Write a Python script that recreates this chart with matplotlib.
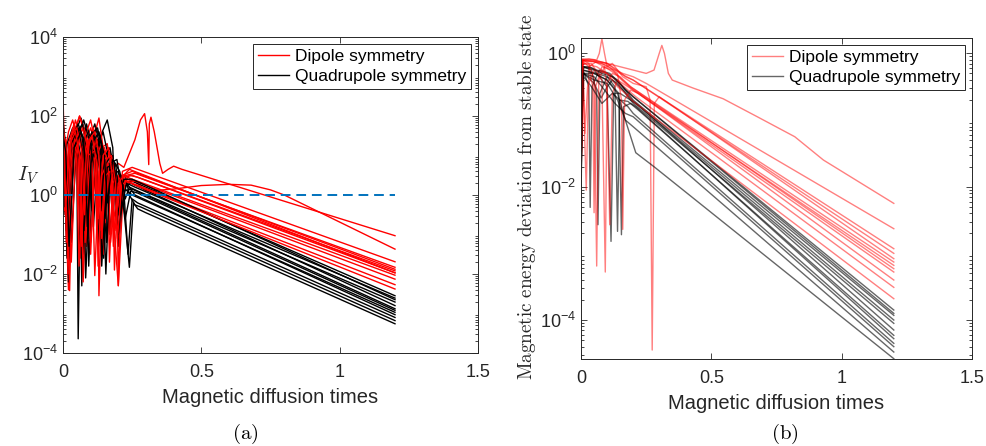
import numpy as np
import matplotlib
matplotlib.use("Agg")
from matplotlib import pyplot as plt

plt.rcParams['font.family'] = ['Liberation Sans', 'DejaVu Sans']
plt.rcParams['mathtext.fontset'] = 'cm'

# each curve: list of (time, log10 value) knots

# panel (a): I_V
a_dipole = [
    [(0, 2.6), (0.005, 1.0), (0.02, 1.6), (0.035, 1.9), (0.05, 1.5), (0.06, -1.0), (0.075, 1.2), (0.1, 1.7),
     (0.12, 1.2), (0.13, -0.8), (0.15, 0.5), (0.2, 0.8), (0.22, 0.7), (0.26, 1.4), (0.28, 1.9), (0.295, 2.06),
     (0.305, 1.6), (0.31, 0.77), (0.312, 1.8), (0.318, 1.97), (0.33, 1.6), (0.35, 0.8), (0.36, 0.55),
     (0.38, 0.65), (0.4, 0.73), (0.43, 0.65), (1.2, -1.03)],
    [(0, 1.5), (0.02, -2.4), (0.04, 1.5), (0.06, 2.0), (0.08, 1.6), (0.1, -1.2), (0.12, 1.0), (0.15, 1.2),
     (0.17, 0.6), (0.2, -2.3), (0.22, 0.4), (0.26, 0.35), (0.3, 0.1), (0.4, 0.15), (0.5, 0.24), (0.6, 0.27),
     (0.68, 0.25), (0.75, 0.13), (0.8, 0.0), (1.2, -1.37)],
    [(0, 1.8), (0.01, 0.5), (0.015, -1.5), (0.025, 1.2), (0.045, 1.9), (0.065, 1.4), (0.075, -0.8), (0.09, 1.3),
     (0.11, 1.7), (0.125, 1.0), (0.13, -2.55), (0.145, 0.9), (0.17, 1.1), (0.185, 0.2), (0.2, -0.4),
     (0.215, 0.6), (0.25, 0.7), (1.2, -1.69)],
    [(0, 2.2), (0.008, -0.5), (0.02, 1.3), (0.04, 1.8), (0.055, 1.3), (0.065, -1.6), (0.08, 1.5), (0.1, 1.9),
     (0.115, 1.4), (0.122, -1.0), (0.14, 1.2), (0.16, 1.3), (0.175, 0.5), (0.182, -1.3), (0.2, 0.4),
     (0.23, 0.5), (0.26, 0.55), (1.2, -1.83)],
    [(0, 1.2), (0.01, 1.4), (0.024, -2.42), (0.035, 1.0), (0.055, 1.6), (0.07, 1.2), (0.085, -1.3), (0.1, 1.2),
     (0.12, 1.5), (0.135, 0.8), (0.145, -1.5), (0.16, 0.7), (0.18, 0.9), (0.195, 0.2), (0.2, -2.29),
     (0.21, 0.2), (0.24, 0.5), (0.27, 0.45), (1.2, -1.92)],
    [(0, 1.5), (0.012, 1.1), (0.02, -1.0), (0.035, 1.5), (0.06, 2.0), (0.08, 1.5), (0.09, -0.6), (0.105, 1.3),
     (0.13, 1.95), (0.145, 1.2), (0.152, -0.7), (0.17, 0.8), (0.19, 0.6), (0.205, -0.5), (0.22, 0.45),
     (0.25, 0.5), (1.2, -1.97)],
    [(0, 1.0), (0.005, -0.4), (0.02, 1.1), (0.04, 1.5), (0.05, 0.8), (0.058, -1.8), (0.075, 0.9), (0.09, 1.4),
     (0.105, 0.8), (0.115, -2.04), (0.13, 0.6), (0.15, 1.0), (0.165, 0.3), (0.172, -1.2), (0.19, 0.3),
     (0.215, 0.5), (0.25, 0.4), (1.2, -2.03)],
    [(0, 1.6), (0.015, 0.8), (0.03, -1.7), (0.045, 1.0), (0.07, 1.7), (0.09, 1.2), (0.1, -1.5), (0.115, 0.9),
     (0.14, 1.3), (0.16, 0.9), (0.168, -1.7), (0.18, 0.3), (0.2, 0.5), (0.212, -0.2), (0.225, 0.3),
     (0.26, 0.35), (1.2, -2.13)],
    [(0, 1.3), (0.01, 0.9), (0.018, -2.0), (0.03, 0.7), (0.05, 1.3), (0.065, 0.9), (0.073, -2.2), (0.09, 1.0),
     (0.11, 1.1), (0.12, 0.3), (0.127, -1.8), (0.14, 0.5), (0.16, 0.8), (0.175, 0.0), (0.188, -0.9),
     (0.21, 0.4), (0.25, 0.3), (1.2, -2.27)],
    [(0, 1.7), (0.01, 1.2), (0.022, -0.8), (0.04, 1.3), (0.06, 1.6), (0.075, 0.8), (0.08, -1.2), (0.1, 1.0),
     (0.12, 1.4), (0.135, 0.9), (0.14, -1.1), (0.155, 0.5), (0.17, 0.6), (0.18, -0.8), (0.2, 0.2),
     (0.23, 0.35), (0.26, 0.25), (1.2, -2.38)],
    [(0, 2.0), (0.006, 1.0), (0.012, -1.2), (0.03, 1.5), (0.05, 1.7), (0.068, 1.1), (0.078, -0.5), (0.095, 1.4),
     (0.115, 1.6), (0.13, 1.0), (0.138, -0.9), (0.155, 0.9), (0.175, 1.0), (0.19, 0.3), (0.197, -1.1),
     (0.215, 0.5), (0.25, 0.6), (1.2, -1.88)],
    [(0, 1.4), (0.01, -0.3), (0.025, 1.3), (0.045, 1.6), (0.06, 1.0), (0.066, -1.3), (0.085, 1.1), (0.105, 1.5),
     (0.12, 0.9), (0.128, -0.6), (0.145, 1.0), (0.165, 1.2), (0.18, 0.4), (0.186, -1.9), (0.2, 0.3),
     (0.22, 0.5), (0.24, 0.65), (1.2, -1.97)],
]

a_quadrupole = [
    [(0, 1.6), (0.01, 1.0), (0.02, -1.0), (0.04, 1.5), (0.065, 1.95), (0.085, 1.5), (0.095, -0.5), (0.11, 1.2),
     (0.135, 1.5), (0.15, 0.9), (0.158, -1.2), (0.175, 0.5), (0.2, 0.6), (0.215, 0.0), (0.24, -1.83),
     (0.255, -0.2), (0.27, -0.35), (0.3, -0.45), (1.2, -3.26)],
    [(0, 1.9), (0.005, 0.5), (0.015, 1.3), (0.035, 1.7), (0.05, 1.0), (0.055, -3.64), (0.065, 1.0), (0.085, 1.8),
     (0.1, 1.4), (0.11, -0.8), (0.13, 1.4), (0.16, 1.9), (0.18, 1.2), (0.19, -0.5), (0.205, 0.4), (0.225, 0.5),
     (0.24, 0.0), (0.26, -0.25), (0.28, -0.3), (1.2, -3.18)],
    [(0, 1.2), (0.008, -0.5), (0.025, 1.2), (0.05, 1.6), (0.065, 0.9), (0.072, -1.5), (0.09, 1.3), (0.115, 1.8),
     (0.135, 1.2), (0.142, -0.7), (0.16, 0.9), (0.18, 1.0), (0.195, 0.0), (0.2, -1.3), (0.22, 0.3),
     (0.25, 0.35), (1.2, -2.55)],
    [(0, 1.5), (0.012, 0.7), (0.02, -2.2), (0.035, 1.0), (0.06, 1.7), (0.08, 1.3), (0.09, -1.1), (0.105, 1.0),
     (0.125, 1.4), (0.14, 0.6), (0.147, -1.6), (0.165, 0.5), (0.19, 0.6), (0.205, -0.3), (0.23, 0.3),
     (0.26, 0.2), (1.2, -2.61)],
    [(0, 1.8), (0.01, 1.3), (0.03, -1.2), (0.05, 1.4), (0.075, 1.9), (0.095, 1.4), (0.105, -0.4), (0.12, 1.1),
     (0.145, 1.6), (0.16, 1.1), (0.17, -1.0), (0.185, 0.4), (0.21, 0.5), (0.225, -0.1), (0.24, 0.2),
     (0.27, 0.1), (1.2, -2.71)],
    [(0, 1.3), (0.006, 0.2), (0.015, -1.6), (0.03, 1.1), (0.05, 1.5), (0.06, 0.9), (0.068, -2.3), (0.085, 1.1),
     (0.105, 1.6), (0.12, 1.0), (0.128, -1.3), (0.145, 0.9), (0.17, 1.2), (0.185, 0.6), (0.195, -0.7),
     (0.215, 0.2), (0.245, 0.3), (1.2, -2.8)],
    [(0, 1.7), (0.01, 0.9), (0.025, -0.7), (0.045, 1.5), (0.07, 1.8), (0.085, 1.2), (0.093, -1.8), (0.11, 0.9),
     (0.13, 1.3), (0.145, 0.7), (0.152, -0.6), (0.17, 0.8), (0.195, 0.9), (0.21, 0.2), (0.225, -0.6),
     (0.245, 0.1), (0.27, 0.05), (1.2, -2.92)],
    [(0, 1.4), (0.01, 0.4), (0.018, -1.9), (0.035, 0.9), (0.055, 1.3), (0.07, 0.6), (0.078, -1.0), (0.095, 1.2),
     (0.12, 1.7), (0.14, 1.3), (0.15, -0.3), (0.165, 0.6), (0.185, 0.7), (0.2, -0.2), (0.215, 0.2),
     (0.25, 0.0), (1.2, -2.97)],
    [(0, 2.0), (0.005, 1.2), (0.012, -0.9), (0.03, 1.4), (0.055, 1.8), (0.075, 1.4), (0.083, -0.2), (0.1, 1.5),
     (0.125, 1.7), (0.14, 1.2), (0.155, -2.0), (0.17, 0.7), (0.19, 0.8), (0.2, 0.2), (0.21, -0.4),
     (0.23, 0.3), (0.26, 0.0), (1.2, -3.03)],
    [(0, 1.1), (0.01, 0.3), (0.02, -0.6), (0.04, 1.2), (0.06, 1.5), (0.075, 0.9), (0.082, -2.1), (0.1, 0.8),
     (0.12, 1.2), (0.135, 0.5), (0.14, -1.8), (0.16, 0.7), (0.185, 0.8), (0.2, -0.5), (0.22, 0.4),
     (0.25, 0.4), (1.2, -2.65)],
    [(0, 1.6), (0.008, -0.3), (0.03, 1.3), (0.055, 1.7), (0.07, 1.1), (0.076, -0.9), (0.09, 1.0), (0.115, 1.5),
     (0.135, 0.9), (0.14, -0.4), (0.155, 0.8), (0.175, 1.0), (0.19, 0.2), (0.2, -1.0), (0.215, 0.1),
     (0.25, 0.15), (1.2, -2.88)],
    [(0, 1.5), (0.01, 1.1), (0.022, -1.3), (0.04, 1.2), (0.065, 1.6), (0.08, 1.0), (0.088, -0.8), (0.105, 1.3),
     (0.13, 1.6), (0.15, 1.0), (0.16, -0.2), (0.18, 0.9), (0.205, 0.6), (0.22, 0.1), (0.235, -1.5),
     (0.25, -0.1), (0.27, -0.2), (1.2, -3.1)],
]

# panel (b): magnetic energy deviation from stable state
b_dipole = [
    [(0, -1.9), (0.005, -0.1), (0.03, -0.08), (0.06, -0.1), (0.07, 0.0), (0.08, 0.22), (0.09, 0.0), (0.1, -0.2),
     (0.13, -0.25), (0.16, -0.3), (0.2, -0.35), (0.25, -0.45), (1.2, -2.63)],
    [(0, -1.8), (0.006, -0.08), (0.05, -0.1), (0.1, -0.15), (0.15, -0.2), (0.2, -0.25), (0.25, -0.3),
     (0.28, -0.25), (0.3, 0.0), (0.31, 0.12), (0.32, 0.0), (0.335, -0.3), (0.35, -0.4), (0.43, -0.52),
     (0.545, -0.68), (0.676, -0.95), (0.82, -1.25), (0.93, -1.6), (1.2, -2.25)],
    [(0, -2.0), (0.005, -0.1), (0.04, -0.12), (0.08, -0.15), (0.1, -0.2), (0.12, -0.15), (0.16, -0.35),
     (0.2, -0.45), (0.25, -0.5), (0.265, -0.7), (0.273, -4.45), (0.281, -0.75), (0.3, -0.65), (1.2, -3.08)],
    [(0, -1.6), (0.005, -0.1), (0.02, -2.05), (0.03, -0.2), (0.06, -0.12), (0.1, -0.15), (0.14, -0.25),
     (0.17, -0.35), (0.2, -0.4), (1.2, -2.93)],
    [(0, -1.5), (0.006, -0.12), (0.03, -0.2), (0.045, -0.5), (0.05, -2.39), (0.056, -0.5), (0.08, -0.2),
     (0.12, -0.25), (0.16, -0.4), (0.19, -0.5), (1.2, -3.13)],
    [(0, -1.2), (0.007, -0.1), (0.03, -0.15), (0.05, -0.4), (0.06, -3.19), (0.068, -0.4), (0.09, -0.2),
     (0.13, -0.3), (0.17, -0.45), (0.2, -0.55), (1.2, -3.18)],
    [(0, -1.8), (0.005, -0.15), (0.04, -0.15), (0.08, -0.4), (0.093, -3.28), (0.1, -0.45), (0.12, -0.3),
     (0.15, -0.35), (0.19, -0.5), (1.2, -3.23)],
    [(0, -2.0), (0.006, -0.12), (0.05, -0.12), (0.09, -0.2), (0.1, -0.6), (0.11, -2.57), (0.12, -0.6),
     (0.14, -0.4), (0.18, -0.5), (0.2, -0.55), (1.2, -3.28)],
    [(0, -1.4), (0.005, -0.1), (0.05, -0.12), (0.1, -0.18), (0.14, -0.3), (0.155, -0.7), (0.16, -2.64),
     (0.167, -0.7), (0.19, -0.55), (0.22, -0.6), (1.2, -3.4)],
    [(0, -1.7), (0.01, -0.4), (0.015, -1.2), (0.025, -0.5), (0.05, -0.25), (0.1, -0.3), (0.15, -0.45),
     (0.18, -0.55), (0.21, -0.65), (1.2, -3.51)],
    [(0, -1.5), (0.008, -0.15), (0.06, -0.2), (0.1, -0.3), (0.14, -0.5), (0.17, -0.6), (0.2, -0.72),
     (1.2, -3.68)],
    [(0, -1.9), (0.005, -0.1), (0.05, -0.1), (0.1, -0.15), (0.15, -0.3), (0.2, -0.4), (1.2, -3.0)],
]

b_quadrupole = [
    [(0, -2.0), (0.006, -0.2), (0.03, -0.2), (0.06, -0.25), (0.1, -0.3), (0.14, -0.4), (0.17, -0.55),
     (0.2, -0.65), (1.2, -3.85)],
    [(0, -1.5), (0.008, -0.25), (0.03, -0.5), (0.035, -2.31), (0.042, -0.5), (0.07, -0.25), (0.11, -0.3),
     (0.15, -0.45), (0.2, -0.7), (1.2, -3.93)],
    [(0, -1.8), (0.007, -0.2), (0.04, -0.25), (0.06, -0.6), (0.065, -2.57), (0.072, -0.6), (0.1, -0.35),
     (0.14, -0.45), (0.2, -0.72), (1.2, -4.0)],
    [(0, -1.2), (0.01, -0.3), (0.05, -0.45), (0.077, -0.67), (0.1, -0.5), (0.12, -0.4), (0.16, -0.55),
     (0.2, -0.75), (1.2, -4.05)],
    [(0, -2.2), (0.006, -0.2), (0.05, -0.25), (0.1, -0.5), (0.115, -2.82), (0.125, -0.6), (0.15, -0.6),
     (0.19, -0.7), (0.22, -0.78), (1.2, -4.15)],
    [(0, -1.6), (0.008, -0.25), (0.06, -0.3), (0.1, -0.35), (0.13, -0.5), (0.14, -2.67), (0.148, -0.7),
     (0.18, -0.72), (0.22, -0.85), (1.2, -4.23)],
    [(0, -1.9), (0.007, -0.3), (0.05, -0.3), (0.1, -0.4), (0.145, -0.6), (0.155, -2.72), (0.163, -0.8),
     (0.19, -0.75), (0.21, -0.8), (1.2, -4.28)],
    [(0, -1.4), (0.01, -0.35), (0.04, -0.5), (0.08, -0.75), (0.12, -0.6), (0.15, -0.7), (0.18, -0.8),
     (0.2, -0.9), (1.2, -4.35)],
    [(0, -1.7), (0.008, -0.3), (0.05, -0.4), (0.1, -0.45), (0.14, -0.7), (0.17, -1.0), (0.2, -1.1),
     (1.2, -4.48)],
    [(0, -2.0), (0.007, -0.25), (0.05, -0.3), (0.1, -0.4), (0.14, -0.6), (0.17, -1.0), (0.21, -1.49),
     (0.28, -1.7), (1.2, -4.58)],
    [(0, -1.3), (0.006, -0.2), (0.04, -0.22), (0.08, -0.3), (0.12, -0.35), (0.16, -0.5), (0.2, -0.65),
     (1.2, -3.9)],
    [(0, -1.6), (0.008, -0.3), (0.05, -0.35), (0.09, -0.55), (0.13, -0.75), (0.17, -0.9), (0.2, -0.95),
     (1.2, -4.4)],
]

labels = ['Dipole symmetry', 'Quadrupole symmetry']
threshold = 1.0
threshold_end = 1.2

axis_grey = '#262626'


def draw(ax, dip, quad, lw, alpha_r, alpha_k):
    hr = hk = None
    # interleave so neither group sits fully on top
    for i in range(max(len(dip), len(quad))):
        if i < len(quad):
            t, v = zip(*quad[i])
            hk, = ax.plot(t, 10.0 ** np.array(v), color='k', lw=lw, alpha=alpha_k)
        if i < len(dip):
            t, v = zip(*dip[i])
            hr, = ax.plot(t, 10.0 ** np.array(v), color='r', lw=lw, alpha=alpha_r)
    return hr, hk


def style(ax):
    ax.set_yscale('log')
    ax.set_xlim(0, 1.5)
    ax.set_xticks([0, 0.5, 1, 1.5])
    ax.set_xticklabels(['0', '0.5', '1', '1.5'])
    ax.tick_params(which='both', direction='in', top=True, right=True, colors=axis_grey,
                   labelsize=13, width=0.6)
    ax.tick_params(axis='x', pad=8)
    ax.tick_params(which='major', length=4)
    ax.tick_params(which='minor', length=2)
    for s in ax.spines.values():
        s.set_color(axis_grey)
        s.set_linewidth(0.7)
    ax.set_xlabel('Magnetic diffusion times', fontsize=14.5, color=axis_grey, labelpad=5)


fig = plt.figure(figsize=(9.87, 4.46), dpi=100)

# (a)
ax1 = fig.add_axes([0.0638, 0.2085, 0.4205, 0.7085])
hr, hk = draw(ax1, a_dipole, a_quadrupole, 1.0, 1.0, 1.0)
ax1.plot([0, threshold_end], [threshold, threshold], ls=(0, (5, 3)), color='#0072BD', lw=1.4)
style(ax1)
ax1.set_ylim(1e-4, 1e4)
ax1.set_yticks([1e-4, 1e-2, 1e0, 1e2, 1e4])
ax1.set_ylabel(r'$I_V$', rotation=0, fontsize=15, color=axis_grey)
ax1.yaxis.set_label_coords(-0.085, 0.53)
ax1.legend([hr, hk], labels, loc='upper right', fontsize=12.5, frameon=True, fancybox=False,
           edgecolor=axis_grey, framealpha=1, handlelength=1.8, handletextpad=0.3,
           borderpad=0.3, labelspacing=0.25, borderaxespad=0.4).get_frame().set_linewidth(0.7)

# (b)
ax2 = fig.add_axes([0.5887, 0.195, 0.3961, 0.7197])
hr, hk = draw(ax2, b_dipole, b_quadrupole, 1.0, 0.5, 0.6)
style(ax2)
ax2.set_ylim(2.6e-5, 1.7)
ax2.set_yticks([1e-4, 1e-2, 1e0])
ax2.set_ylabel(r'$\mathrm{Magnetic\ energy\ deviation\ from\ stable\ state}$', fontsize=13.8,
               color=axis_grey)
ax2.yaxis.set_label_coords(-0.11, 0.505)
ax2.legend([hr, hk], labels, loc='upper right', fontsize=12.5, frameon=True, fancybox=False,
           edgecolor=axis_grey, framealpha=1, handlelength=1.8, handletextpad=0.3,
           borderpad=0.3, labelspacing=0.25, borderaxespad=0.4).get_frame().set_linewidth(0.7)

fig.text(0.248, 0.015, r'$\mathrm{(a)}$', fontsize=15, ha='center')
fig.text(0.795, 0.015, r'$\mathrm{(b)}$', fontsize=15, ha='center')

fig.savefig('out.png', dpi=100)
